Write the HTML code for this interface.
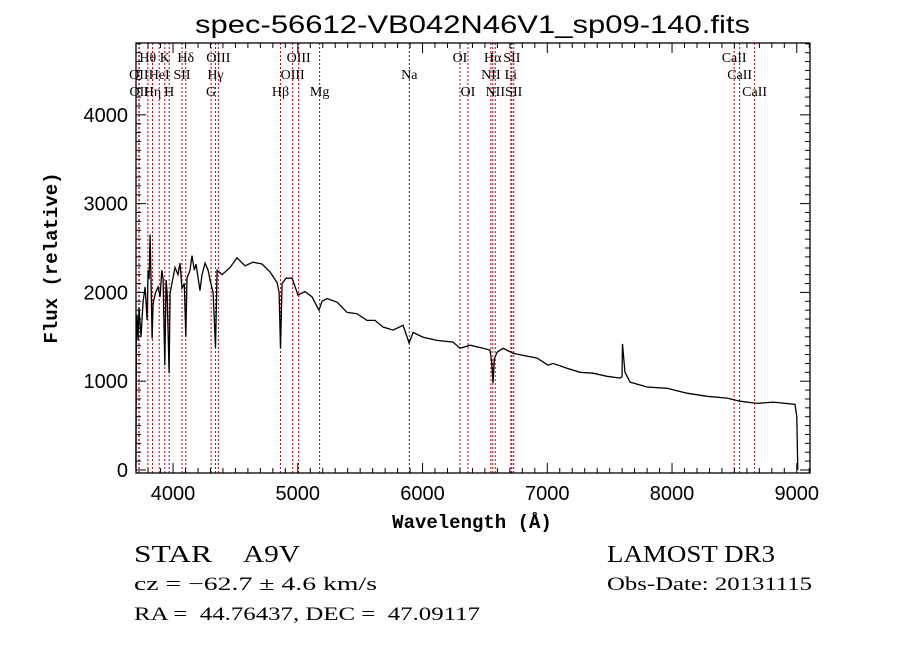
<!DOCTYPE html>
<html><head><meta charset="utf-8"><style>
html,body{margin:0;padding:0;background:#fff;}
svg{display:block;}
.tk{font-family:"Liberation Sans",sans-serif;font-size:20px;fill:#000;}
.ln{font-family:"Liberation Serif",serif;font-size:14px;fill:#000;}
</style></head><body>
<svg id="chart" width="900" height="649" viewBox="0 0 900 649" xmlns="http://www.w3.org/2000/svg">
<rect width="900" height="649" fill="#fff"/>
<text x="195" y="33" textLength="555" lengthAdjust="spacingAndGlyphs" font-family="'Liberation Sans',sans-serif" font-size="25">spec-56612-VB042N46V1_sp09-140.fits</text>
<g id="lines"></g>
<g id="axes"></g>
<g id="series"></g>
<text x="472" y="528" text-anchor="middle" font-family="'Liberation Mono',monospace" font-weight="bold" font-size="19">Wavelength (Å)</text>
<text transform="translate(57,258) rotate(-90)" text-anchor="middle" font-family="'Liberation Mono',monospace" font-weight="bold" font-size="19">Flux (relative)</text>
<g font-family="'Liberation Serif',serif">
<text x="134" y="562" font-size="24" textLength="78" lengthAdjust="spacingAndGlyphs">STAR</text>
<text x="243" y="562" font-size="24" textLength="57" lengthAdjust="spacingAndGlyphs">A9V</text>
<text x="607" y="562" font-size="24" textLength="168" lengthAdjust="spacingAndGlyphs">LAMOST DR3</text>
<text x="134" y="590" font-size="19" textLength="243" lengthAdjust="spacingAndGlyphs">cz = −62.7 ± 4.6 km/s</text>
<text x="607" y="590" font-size="19" textLength="205" lengthAdjust="spacingAndGlyphs">Obs-Date: 20131115</text>
<text x="134" y="620" font-size="19" textLength="346" lengthAdjust="spacingAndGlyphs" xml:space="preserve">RA =  44.76437, DEC =  47.09117</text>
</g>
</svg>
<script>
const wavelengths=[3702,3706,3711,3720,3727,3743,3760,3776,3792,3800,3808,3816,3824,3832,3840,3860,3880,3896,3910,3920,3934,3944,3952,3968,3976,3992,4016,4040,4056,4072,4090,4102,4112,4136,4152,4170,4184,4216,4232,4257,4281,4297,4321,4340,4353,4393,4457,4513,4577,4641,4713,4778,4834,4850,4861,4874,4906,4954,5002,5058,5114,5170,5194,5234,5315,5395,5475,5555,5619,5683,5764,5844,5892,5924,6004,6116,6245,6301,6381,6485,6541,6555,6565,6575,6597,6645,6725,6806,6918,7006,7046,7158,7263,7367,7479,7583,7599,7603,7610,7623,7663,7800,7960,8120,8281,8441,8545,8681,8810,8986,9000,9008];
const fluxes=[20,1500,1750,1460,1830,1500,1900,2060,1690,2250,2150,2650,2100,1480,1880,2000,2060,1950,2250,2150,1180,2140,2000,1090,1990,2110,2280,2200,2330,2045,2100,1500,2160,2250,2415,2250,2320,2020,2200,2330,2250,2135,2000,1380,2250,2200,2280,2390,2300,2340,2320,2230,2110,2000,1370,2100,2160,2160,1970,2010,1950,1800,1900,1930,1890,1775,1760,1685,1685,1610,1575,1630,1430,1550,1495,1460,1440,1370,1405,1370,1350,1200,980,1250,1325,1370,1315,1290,1260,1180,1200,1145,1100,1090,1055,1035,1050,1420,1300,1100,990,935,920,865,830,810,775,750,765,740,600,0];
const lineWaves=[3726,3729,3798,3835,3889,3934,3969,4072,4102,4305,4340,4363,4861,4959,5007,5175,5894,6300,6364,6548,6563,6583,6708,6716,6731,8498,8542,8662];
const lineNames=["OII","OII","Hθ","Hη","HeI","K","H","SII","Hδ","G","Hγ","OIII","Hβ","OIII","OIII","Mg","Na","OI","OI","NII","Hα","NII","Li","SII","SII","CaII","CaII","CaII"];
const lineRows=[2,3,1,3,2,1,3,2,1,3,2,1,3,2,1,3,2,1,3,2,1,3,2,1,3,1,2,3];
const xTicks=[4000,5000,6000,7000,8000,9000];
const yTicks=[0,1000,2000,3000,4000];

const NS="http://www.w3.org/2000/svg";
const L=136,R=810,T=43,B=473;
const X0=3703,X1=9106,Y0=-34,Y1=4809;
function xs(w){return L+(w-X0)/(X1-X0)*(R-L);}
function ys(f){return B-(f-Y0)/(Y1-Y0)*(B-T);}
function mk(tag,attrs,parent){const e=document.createElementNS(NS,tag);for(const k in attrs)e.setAttribute(k,attrs[k]);parent.appendChild(e);return e;}

const gl=document.getElementById('lines');
const rowY={1:62,2:79,3:96};
lineWaves.forEach((w,i)=>{
  const x=xs(w);
  const l=mk('line',{x1:x,x2:x,y1:T,y2:B,stroke:'#c00000','stroke-width':1,'stroke-dasharray':'2,2'},gl);
  
  
  const t=mk('text',{x:x,y:rowY[lineRows[i]],'text-anchor':'middle','class':'ln'},gl);
  t.textContent=lineNames[i];
  
  
});

const ga=document.getElementById('axes');
const fr=mk('rect',{x:L,y:T,width:R-L,height:B-T,fill:'none',stroke:'#000','stroke-width':1.3},ga);


for(let w=3800;w<=9100;w+=100){
  const x=xs(w);const major=w%1000===0;const len=major?10:5;
  mk('line',{x1:x,x2:x,y1:B,y2:B-len,stroke:'#000'},ga);
  mk('line',{x1:x,x2:x,y1:T,y2:T+len,stroke:'#000'},ga);
}
xTicks.forEach(v=>{
  const t=mk('text',{x:xs(v),y:B+27,'text-anchor':'middle','class':'tk'},ga);
  t.textContent=v;
  
  
});
for(let f=0;f<=4800;f+=100){
  const y=ys(f);const major=f%1000===0;const len=major?10:5;
  mk('line',{x1:L,x2:L+len,y1:y,y2:y,stroke:'#000'},ga);
  mk('line',{x1:R,x2:R-len,y1:y,y2:y,stroke:'#000'},ga);
}
yTicks.forEach(v=>{
  const t=mk('text',{x:L-8,y:ys(v)+7,'text-anchor':'end','class':'tk'},ga);
  t.textContent=v;
  
  
});

const gs=document.getElementById('series');
let d='';
wavelengths.forEach((w,i)=>{d+=(i?'L':'M')+xs(w).toFixed(1)+','+ys(fluxes[i]).toFixed(1);});
const p=mk('path',{d:d,fill:'none',stroke:'#000','stroke-width':1.3,'stroke-linejoin':'miter'},gs);


</script>
</body></html>
